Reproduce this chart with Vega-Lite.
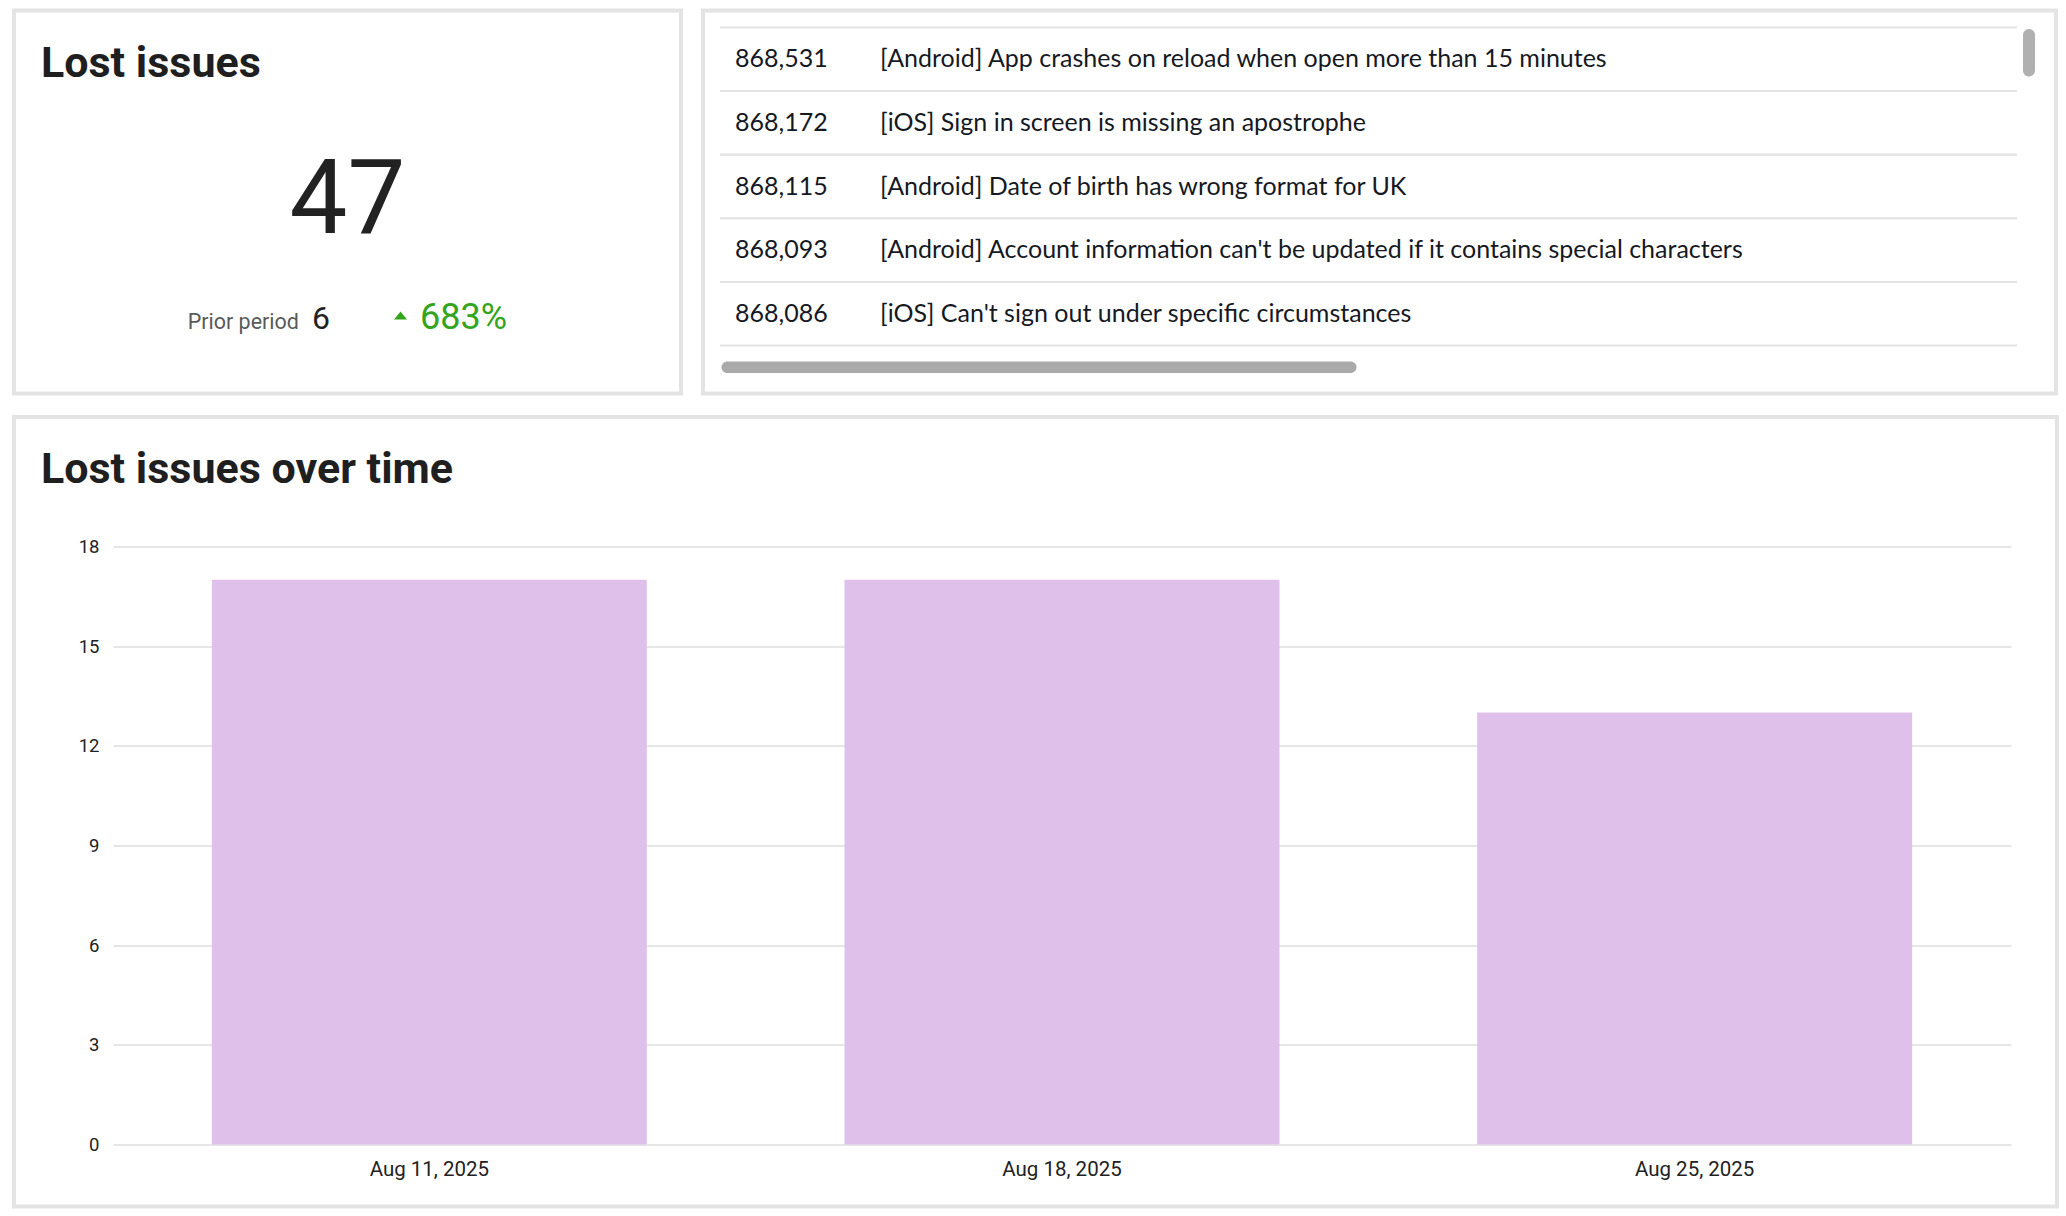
{
  "$schema": "https://vega.github.io/schema/vega-lite/v6.json",
  "padding": {"left": 12, "top": 8.5, "right": 0, "bottom": 0},
  "background": "white",
  "config": {
    "view": {"stroke": "#e4e4e4", "strokeWidth": 4},
    "font": "Roboto"
  },
  "datasets": {
    "kpi": [{"current": 47, "prior": 6, "change": 6.83}],
    "issues": [
      {"id": 868531, "title": "[Android] App crashes on reload when open more than 15 minutes"},
      {"id": 868172, "title": "[iOS] Sign in screen is missing an apostrophe"},
      {"id": 868115, "title": "[Android] Date of birth has wrong format for UK"},
      {"id": 868093, "title": "[Android] Account information can't be updated if it contains special characters"},
      {"id": 868086, "title": "[iOS] Can't sign out under specific circumstances"}
    ],
    "weekly": [
      {"week": "2025-08-11", "lost": 17},
      {"week": "2025-08-18", "lost": 17},
      {"week": "2025-08-25", "lost": 13}
    ]
  },
  "columns": 1,
  "align": "none",
  "spacing": 19,
  "concat": [
    {
      "spacing": 18,
      "hconcat": [
        {
          "width": 568,
          "height": 383,
          "view": {"stroke": null},
          "data": {"name": "kpi"},
          "layer": [
            {
              "mark": {"type": "rect", "x": -99, "x2": 568, "y": 0, "y2": 383, "fill": "transparent", "stroke": "#e4e4e4", "strokeWidth": 4}
            },
            {
              "mark": {"type": "text", "text": "Lost issues", "x": -72, "y": 66, "align": "left", "baseline": "alphabetic", "fontSize": 43, "fontWeight": "bold", "color": "#1f1f1f"}
            },
            {
              "mark": {"type": "text", "x": 234.5, "y": 222.5, "align": "center", "baseline": "alphabetic", "fontSize": 103, "color": "#222222"},
              "encoding": {"text": {"field": "current", "type": "quantitative"}}
            },
            {
              "mark": {"type": "text", "text": "Prior period", "x": 186, "y": 318, "align": "right", "baseline": "alphabetic", "fontSize": 21.5, "color": "#5a5a5a"}
            },
            {
              "mark": {"type": "text", "x": 199, "y": 318, "align": "left", "baseline": "alphabetic", "fontSize": 32, "color": "#222222"},
              "encoding": {"text": {"field": "prior", "type": "quantitative"}}
            },
            {
              "mark": {"type": "point", "shape": "M-1,0.6L0,-0.6L1,0.6Z", "size": 169, "filled": true, "opacity": 1, "color": "#33a51c", "x": 287.5, "y": 305}
            },
            {
              "mark": {"type": "text", "x": 307, "y": 318, "align": "left", "baseline": "alphabetic", "fontSize": 36, "color": "#33a51c"},
              "encoding": {"text": {"field": "change", "type": "quantitative", "format": ".0%"}}
            }
          ]
        },
        {
          "width": 1353,
          "height": 383,
          "layer": [
            {
              "data": {"name": "issues"},
              "mark": {"type": "rule", "color": "#e4e4e4", "strokeWidth": 2, "x": 17, "x2": 1314},
              "encoding": {"y": {"field": "id", "type": "ordinal", "sort": "descending", "bandPosition": 0, "scale": {"range": [17, 335], "paddingInner": 0, "paddingOuter": 0}, "axis": null}}
            },
            {
              "data": {"name": "issues"},
              "mark": {"type": "rule", "color": "#e4e4e4", "strokeWidth": 2, "x": 17, "x2": 1314},
              "encoding": {"y": {"field": "id", "type": "ordinal", "sort": "descending", "bandPosition": 1}}
            },
            {
              "data": {"name": "issues"},
              "mark": {"type": "text", "x": 32, "align": "left", "baseline": "middle", "font": "Lato", "fontSize": 25, "color": "#16191f"},
              "encoding": {
                "y": {"field": "id", "type": "ordinal", "sort": "descending"},
                "text": {"field": "id", "type": "quantitative", "format": ","}
              }
            },
            {
              "data": {"name": "issues"},
              "mark": {"type": "text", "x": 177, "align": "left", "baseline": "middle", "font": "Lato", "fontSize": 25, "color": "#16191f"},
              "encoding": {
                "y": {"field": "id", "type": "ordinal", "sort": "descending"},
                "text": {"field": "title", "type": "nominal"}
              }
            },
            {
              "data": {"values": [{}]},
              "mark": {"type": "rect", "x": 18.5, "x2": 653.5, "y": 351, "y2": 362.5, "color": "#aaaaaa", "cornerRadius": 6}
            },
            {
              "data": {"values": [{}]},
              "mark": {"type": "rect", "x": 1320, "x2": 1332, "y": 18.5, "y2": 66, "color": "#b0b0b0", "cornerRadius": 6}
            }
          ]
        }
      ]
    },
    {
      "width": 1898,
      "height": 598,
      "view": {"stroke": null},
      "data": {"name": "weekly"},
      "layer": [
        {
          "data": {"values": [{}]},
          "mark": {"type": "rect", "x": -99, "y": -129.5, "x2": 1944, "y2": 660, "fill": "transparent", "stroke": "#e4e4e4", "strokeWidth": 4}
        },
        {
          "data": {"values": [{}]},
          "mark": {"type": "text", "text": "Lost issues over time", "x": -72, "y": -63.5, "align": "left", "baseline": "alphabetic", "fontSize": 43, "fontWeight": "bold", "color": "#1f1f1f"}
        },
        {
          "mark": {"type": "bar", "color": "#dfc0eb"},
          "encoding": {
            "x": {
              "field": "week", "type": "ordinal", "timeUnit": "utcyearmonthdate",
              "scale": {"paddingInner": 0.3125, "paddingOuter": 0.15625},
              "axis": {"format": "%b %d, %Y", "labelAngle": 0, "title": null, "domain": false, "ticks": false, "labelPadding": 15, "labelFontSize": 20.5, "labelColor": "#222222"}
            },
            "y": {
              "field": "lost", "type": "quantitative",
              "scale": {"domain": [0, 18]},
              "axis": {"values": [0, 3, 6, 9, 12, 15, 18], "title": null, "domain": false, "ticks": false, "labelPadding": 14, "labelFontSize": 18.5, "labelColor": "#222222", "gridColor": "#e6e6e6", "gridWidth": 2}
            }
          }
        }
      ]
    }
  ]
}
